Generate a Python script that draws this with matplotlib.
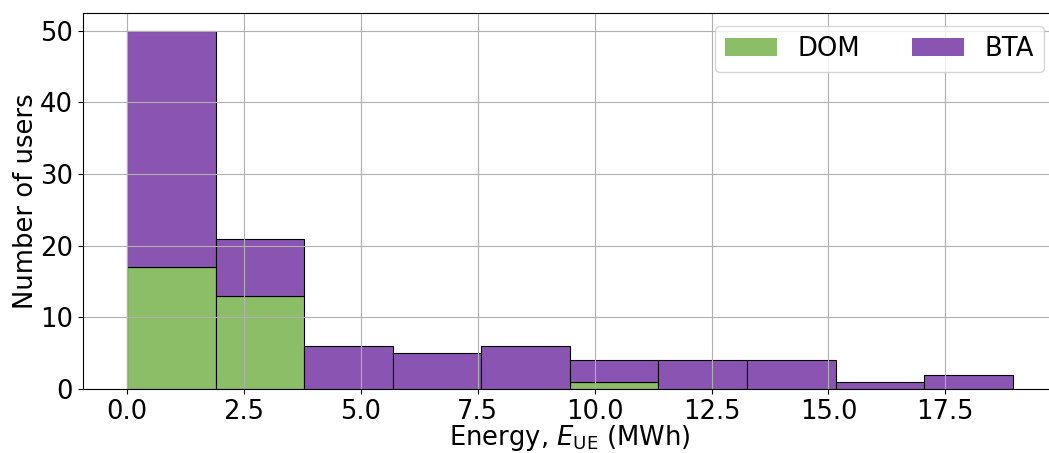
import numpy as np
import matplotlib.pyplot as plt
from matplotlib.patches import Patch

# histogram bins (energy, MWh) and stacked counts
e_max = 18.94
n_bins = 10
dom_counts = [17, 13, 0, 0, 0, 1, 0, 0, 0, 0]
bta_counts = [33, 8, 6, 5, 6, 3, 4, 4, 1, 2]

green = '#8BBE67'
purple = '#8A55B2'
fs = 18.6

edges = np.linspace(0, e_max, n_bins + 1)
width = edges[1:] - edges[:-1]

fig, ax = plt.subplots(figsize=(10.49, 4.53), dpi=100)

ax.bar(edges[:-1], dom_counts, width=width, align='edge',
       color=green, edgecolor='black', linewidth=0.8)
ax.bar(edges[:-1], bta_counts, width=width, align='edge', bottom=dom_counts,
       color=purple, edgecolor='black', linewidth=0.8)

ax.grid(True)
ax.set_xlabel(r'Energy, $E_{\mathrm{UE}}$ (MWh)', fontsize=fs, labelpad=-1)
ax.set_ylabel('Number of users', fontsize=fs, labelpad=1)
ax.tick_params(labelsize=fs)

handles = [Patch(facecolor=green, label='DOM'), Patch(facecolor=purple, label='BTA')]
ax.legend(handles=handles, loc='upper right', ncol=2, fontsize=fs)

# the original figure is clipped a little on the right
fig.subplots_adjust(left=0.079, right=1.0076, bottom=0.141, top=0.972)
plt.savefig('out.png')
